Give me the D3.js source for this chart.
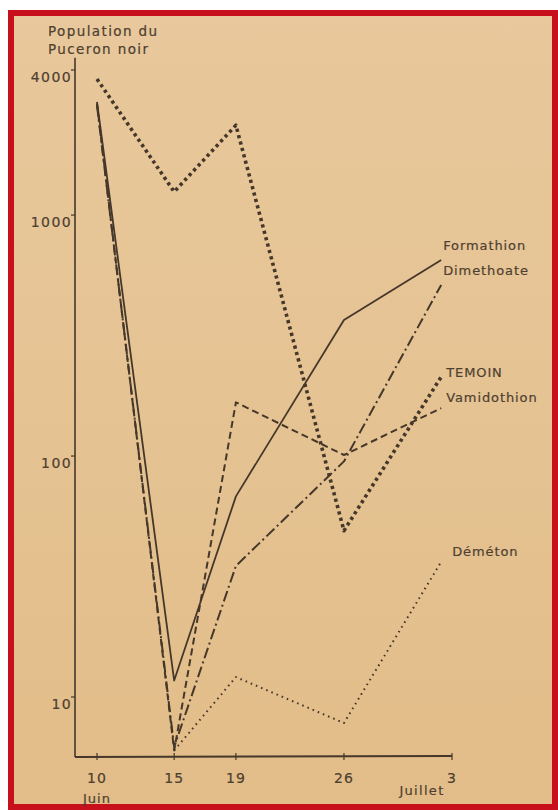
<!DOCTYPE html>
<html>
<head>
<meta charset="utf-8">
<script src="https://cdn.jsdelivr.net/npm/d3@7"></script>
<style>
  body { margin: 0; background: #fff; }
  svg text { font-family: "DejaVu Sans", sans-serif; fill: #4e3f30; stroke: #4e3f30; stroke-width: 0.2; }
</style>
</head>
<body>
<svg width="558" height="810"></svg>
<script>
// sampling dates, as day numbers counted from 1 June (3 juillet = 33)
var dates = [10, 15, 19, 26, 32.3];
var temoin      = [3670, 1250, 2360, 49, 213];
var formathion  = [2950, 11.7, 68, 367, 651];
var dimethoate  = [2850, 6.2, 35, 95, 513];
var vamidothion = [2900, 6.0, 167, 101, 158];
var demeton     = [null, 6.0, 12.1, 7.8, 36.4];

var xTickDays = [10, 15, 19, 26, 33];
var xTickLabels = ["10", "15", "19", "26", "3"];
var yTickValues = [10, 100, 1000, 4000];

var svg = d3.select("svg"),
    ink = "#45372a";

// paper
var defs = svg.append("defs");
var grad = defs.append("linearGradient").attr("id", "paper")
    .attr("x1", 0).attr("y1", 0).attr("x2", 0).attr("y2", 1);
grad.append("stop").attr("offset", "0%").attr("stop-color", "#e8c89c");
grad.append("stop").attr("offset", "100%").attr("stop-color", "#e2bd89");

svg.append("rect").attr("x", 8).attr("y", 10).attr("width", 550).attr("height", 800)
    .attr("fill", "url(#paper)");
svg.append("rect").attr("x", 11).attr("y", 13).attr("width", 544).attr("height", 794)
    .attr("fill", "none").attr("stroke", "#c8101c").attr("stroke-width", 6);

var x = d3.scaleLinear().domain([10, 33]).range([97, 452]);
var y = d3.scaleLog().domain([10, 4000]).range([697, 70]);

// axes
var g = svg.append("g").attr("stroke", ink).attr("fill", "none");
g.append("line").attr("x1", 75).attr("x2", 75)
    .attr("y1", y(4500)).attr("y2", 757).attr("stroke-width", 1.6);
g.append("line").attr("x1", 75).attr("x2", x(33))
    .attr("y1", 757).attr("y2", 756).attr("stroke-width", 2);

svg.append("g").selectAll("line").data(yTickValues).enter().append("line")
    .attr("x1", 71).attr("x2", 75)
    .attr("y1", function(d) { return y(d); }).attr("y2", function(d) { return y(d); })
    .attr("stroke", ink).attr("stroke-width", 1.2);
svg.append("g").selectAll("text").data(yTickValues).enter().append("text")
    .attr("x", 72).attr("y", function(d) { return y(d) + 12; })
    .attr("text-anchor", "end").attr("font-size", 14).attr("letter-spacing", 1.4)
    .text(function(d) { return d; });

svg.append("g").selectAll("line").data(xTickDays).enter().append("line")
    .attr("x1", function(d) { return x(d); }).attr("x2", function(d) { return x(d); })
    .attr("y1", 753).attr("y2", 760)
    .attr("stroke", ink).attr("stroke-width", 1.2);
svg.append("g").selectAll("text").data(xTickDays).enter().append("text")
    .attr("x", function(d) { return x(d); }).attr("y", 783)
    .attr("text-anchor", "middle").attr("font-size", 14).attr("letter-spacing", 1)
    .text(function(d, i) { return xTickLabels[i]; });
svg.append("text").attr("x", x(10)).attr("y", 803).attr("text-anchor", "middle")
    .attr("font-size", 13).attr("letter-spacing", 1).text("Juin");
svg.append("text").attr("x", 422).attr("y", 795).attr("text-anchor", "middle")
    .attr("font-size", 13).attr("letter-spacing", 1.3).text("Juillet");

svg.append("text").attr("x", 48).attr("y", 36).attr("font-size", 13.5)
    .attr("letter-spacing", 1.4).text("Population du");
svg.append("text").attr("x", 48).attr("y", 54).attr("font-size", 13.5)
    .attr("letter-spacing", 1.4).text("Puceron  noir");

// series
var series = [
  {name: "Demeton",     label: "Déméton",     values: demeton,     dash: "1.6,4",        width: 2,   dx: 11, dy: -6},
  {name: "Vamidothion", label: "Vamidothion", values: vamidothion, dash: "7,4",          width: 2,   dx: 5,  dy: -6},
  {name: "Dimethoate",  label: "Dimethoate",  values: dimethoate,  dash: "11,3.5,2,3.5", width: 2,   dx: 2,  dy: -10},
  {name: "Formathion",  label: "Formathion",  values: formathion,  dash: null,           width: 1.8, dx: 2,  dy: -10},
  {name: "Temoin",      label: "TEMOIN",      values: temoin,      dash: "3.2,3.4",      width: 3.6, dx: 5,  dy: 0}
];

var line = d3.line()
    .defined(function(d) { return d.v != null; })
    .x(function(d) { return x(d.t); })
    .y(function(d) { return y(d.v); });

series.forEach(function(s) {
  var pts = dates.map(function(t, i) { return {t: t, v: s.values[i]}; });
  svg.append("path")
      .datum(pts)
      .attr("d", line)
      .attr("fill", "none")
      .attr("stroke", ink)
      .attr("stroke-width", s.width)
      .attr("stroke-linejoin", "round")
      .attr("stroke-dasharray", s.dash);
  var last = pts[pts.length - 1];
  svg.append("text")
      .attr("x", x(last.t) + s.dx)
      .attr("y", y(last.v) + s.dy)
      .attr("font-size", 13)
      .attr("letter-spacing", 0.9)
      .text(s.label);
});
</script>
</body>
</html>
